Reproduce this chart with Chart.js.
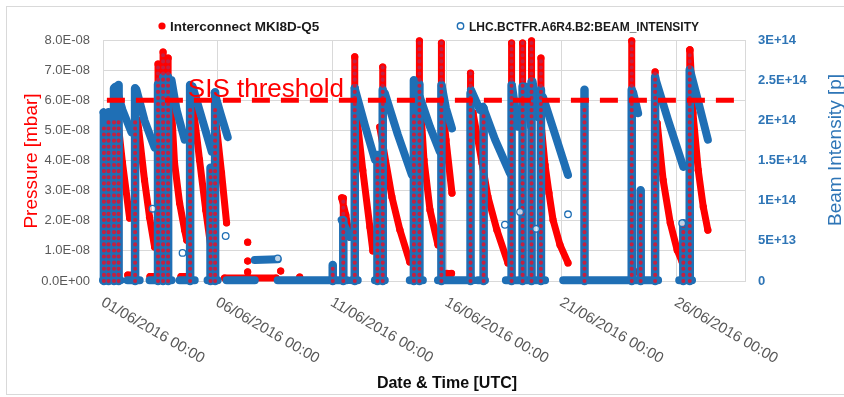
<!DOCTYPE html>
<html><head><meta charset="utf-8">
<script src="https://cdn.jsdelivr.net/npm/chart.js@4.4.1/dist/chart.umd.min.js"></script>
<style>html,body{margin:0;padding:0;background:#fff}#wrap{width:844px;height:397px;position:relative}</style>
</head><body><div id="wrap"><canvas id="c" width="844" height="397"></canvas></div>
<script>
// ---------- DATA (x = days after 01/06/2016 00:00) ----------
const xTickDays = [0, 5, 10, 15, 20, 25];
const xTickLabels = ['01/06/2016 00:00','06/06/2016 00:00','11/06/2016 00:00','16/06/2016 00:00','21/06/2016 00:00','26/06/2016 00:00'];
const leftTickValues = [0,1e-8,2e-8,3e-8,4e-8,5e-8,6e-8,7e-8,8e-8];
const leftTickLabels = ['0.0E+00','1.0E-08','2.0E-08','3.0E-08','4.0E-08','5.0E-08','6.0E-08','7.0E-08','8.0E-08'];
const rightTickValues = [0,5e13,1e14,1.5e14,2e14,2.5e14,3e14];
const rightTickLabels = ['0','5E+13','1E+14','1.5E+14','2E+14','2.5E+14','3E+14'];

const pressureName = 'Interconnect MKI8D-Q5';
const intensityName = 'LHC.BCTFR.A6R4.B2:BEAM_INTENSITY';
const thresholdLabel = 'SIS threshold';
const thresholdPressure = 6e-8;
const thresholdSpan = [0.17, 27.56];

// pressure decays after each fill: [day, mbar]
const pressureDecays = [
  [[0.63,5.44e-8],[0.85,3.92e-8],[1.16,2.09e-8]],
  [[1.51,5.34e-8],[1.81,3.35e-8],[2.03,2.12e-8],[2.25,1.13e-8]],
  [[2.99,5.7e-8],[3.12,3.92e-8],[3.34,2.59e-8],[3.56,1.69e-8],[3.65,1.36e-8]],
  [[3.95,5.68e-8],[4.21,4.02e-8],[4.48,2.36e-8],[4.69,1.2e-8]],
  [[4.87,5.68e-8],[5.17,3.59e-8],[5.39,1.93e-8]],
  [[10.41,2.76e-8],[10.59,2.19e-8],[10.76,1.46e-8]],
  [[11.07,5.44e-8],[11.33,3.68e-8],[11.64,1.79e-8],[11.77,1.0e-8]],
  [[12.07,5.11e-8],[12.6,2.79e-8],[12.95,1.69e-8],[13.38,0.63e-8]],
  [[13.87,5.58e-8],[14.0,4.02e-8],[14.26,2.36e-8],[14.61,1.2e-8]],
  [[14.78,6.11e-8],[14.96,4.68e-8],[15.22,2.92e-8]],
  [[16.14,5.58e-8],[16.53,3.92e-8],[16.79,2.79e-8],[17.18,1.69e-8],[17.66,0.6e-8]],
  [[19.06,5.58e-8],[19.28,3.85e-8],[19.45,2.92e-8],[19.63,2.02e-8],[19.93,1.2e-8],[20.28,0.6e-8]],
  [[24.17,5.24e-8],[24.43,3.35e-8],[24.74,1.93e-8],[25.04,1.03e-8],[25.26,0.63e-8]],
  [[25.6,7.67e-8],[25.73,5.58e-8],[25.96,3.68e-8],[26.18,2.46e-8],[26.38,1.69e-8]]
];
// low pressure plateaus: [from day, to day, mbar]
const pressureBaseline = [
  [0.28,0.45,0.2e-8],[1.08,1.30,0.2e-8],[2.05,2.30,0.15e-8],[3.40,3.62,0.15e-8],
  [5.30,7.55,0.1e-8],[15.0,15.2,0.25e-8],[23.2,23.4,0.3e-8]
];
const pressureDots = [[6.31,1.29e-8],[6.31,0.66e-8],[6.31,0.3e-8],[7.75,0.33e-8],[8.58,0.13e-8],[10.01,0.43e-8]];

// beam intensity decays: [day, protons]
const intensityDecays = [
  [[0.02,2.1e14],[0.28,2.03e14]],
  [[0.55,2.42e14],[0.85,2.13e14],[1.24,1.85e14]],
  [[1.46,2.38e14],[1.81,2.0e14],[2.25,1.66e14]],
  [[2.99,2.5e14],[3.21,2.13e14],[3.56,1.76e14]],
  [[3.91,2.42e14],[4.34,2.0e14],[4.74,1.61e14]],
  [[4.87,2.34e14],[5.13,2.08e14],[5.44,1.79e14]],
  [[6.62,0.26e14],[7.62,0.27e14]],
  [[10.41,0.76e14],[10.76,0.55e14]],
  [[10.98,2.4e14],[11.42,1.94e14],[11.86,1.51e14]],
  [[12.29,2.34e14],[12.86,1.82e14],[13.47,1.32e14]],
  [[13.82,2.29e14],[14.26,1.92e14],[14.69,1.61e14]],
  [[14.78,2.42e14],[14.96,2.15e14],[15.22,1.9e14]],
  [[16.05,2.38e14],[16.44,2.13e14]],
  [[16.57,2.17e14],[17.1,1.76e14],[17.75,1.34e14]],
  [[17.84,2.43e14],[18.1,1.92e14]],
  [[18.41,2.42e14],[18.67,1.92e14]],
  [[18.74,2.48e14],[18.98,2.04e14]],
  [[19.19,2.29e14],[19.72,1.82e14],[20.28,1.32e14]],
  [[23.12,2.35e14],[23.34,2.09e14]],
  [[24.08,2.53e14],[24.65,2.0e14],[25.31,1.42e14]],
  [[25.6,2.63e14],[25.91,2.29e14],[26.38,1.76e14]]
];
// zero-intensity stretches: [from day, to day]
const intensityBaseline = [
  [0.0,0.30],[0.41,0.76],[1.07,1.60],[2.03,2.99],[3.34,4.0],[4.56,5.0],[5.39,6.62],[7.62,10.24],
  [10.33,10.64],[10.85,11.11],[11.86,12.29],[13.38,13.95],[14.61,16.14],[16.35,16.66],
  [17.57,17.97],[18.10,18.49],[18.58,18.89],[19.02,19.28],[20.07,24.21],[25.13,25.69]
];
const intensityOutliers = [[2.16,0.9e14],[3.47,0.35e14],[5.35,0.56e14],[7.62,0.28e14],[17.53,0.7e14],[18.19,0.86e14],[18.89,0.65e14],[20.28,0.83e14],[25.26,0.72e14]];

// injection ramps: [day, pressure top (mbar), intensity top (p)]
const injectionColumns = [
  [0.04,5.2e-8,2.08e14],[0.24,5.41e-8,2.1e14],[0.48,5.3e-8,2.4e14],[0.68,5.44e-8,2.44e14],
  [1.40,5.34e-8,2.4e14],[2.40,7.2e-8,2.45e14],[2.62,7.6e-8,2.54e14],[2.84,7.4e-8,2.54e14],
  [3.80,5.8e-8,2.44e14],[4.69,3.7e-8,1.41e14],[4.89,5.74e-8,2.35e14],
  [10.02,0.45e-8,0.2e14],[10.48,2.75e-8,0.76e14],[10.98,7.44e-8,2.4e14],
  [11.97,4.2e-8,1.57e14],[12.20,7.1e-8,2.38e14],[13.56,5.5e-8,2.5e14],[13.80,7.97e-8,2.45e14],
  [14.76,7.9e-8,2.44e14],[16.03,6.9e-8,2.34e14],[16.60,5.6e-8,2.15e14],
  [17.82,7.9e-8,2.44e14],[18.30,7.9e-8,2.42e14],[18.69,7.97e-8,2.48e14],[19.10,7.4e-8,2.38e14],
  [21.00,5.8e-8,2.38e14],[23.06,7.97e-8,2.38e14],[23.45,3.0e-8,1.13e14],
  [24.08,6.94e-8,2.54e14],[25.31,1.9e-8,0.72e14],[25.59,7.67e-8,2.63e14]
];

// ---------- BUILD ----------
const RED = '#FF0000', BLUE = '#1F6FB5', AXBLUE = '#2E75B6';
const FONT = '"Liberation Sans", Arial, sans-serif';
function joinTraces(traces){
  const out=[];
  traces.forEach(t=>{ t.forEach(([x,y])=>out.push({x,y})); out.push({x:t[t.length-1][0], y:null}); });
  return out;
}
const pressureTraces = []
  .concat(injectionColumns.map(([d,p])=>[[d,0],[d,p]]))
  .concat(pressureDecays)
  .concat(pressureBaseline.map(([a,b,v])=>[[a,v],[b,v]]))
  .concat(pressureDots.map(p=>[p]));
const intensityTraces = intensityDecays.concat(intensityBaseline.map(([a,b])=>[[a,0.01e14],[b,0.01e14]]));
const columnBlue = injectionColumns.map(([d,p,i])=>[[d,0],[d,i]]);
const columnRed = injectionColumns.map(([d,p,i])=>[[d,0],[d,p]]);

const decor = {
  id:'decor',
  beforeDraw(chart){
    const c=chart.ctx; c.save();
    c.fillStyle='#fff'; c.fillRect(0,0,chart.width,chart.height);
    c.strokeStyle='#d9d9d9'; c.lineWidth=1; c.strokeRect(6.5,6.5,860,388);
    c.restore();
  },
  afterDraw(chart){
    const c=chart.ctx, xs=chart.scales.x, ys=chart.scales.y;
    c.save();
    // threshold label
    c.fillStyle=RED; c.font='26px '+FONT; c.textAlign='left'; c.textBaseline='alphabetic';
    c.fillText(thresholdLabel, xs.getPixelForValue(3.7), ys.getPixelForValue(thresholdPressure)-3);
    // x tick labels (rotated)
    c.fillStyle='#595959'; c.font='15px '+FONT; c.textBaseline='top';
    xTickDays.forEach((d,i)=>{
      const px=xs.getPixelForValue(d);
      c.save(); c.translate(px+3,295); c.rotate(Math.PI/6); c.fillText(xTickLabels[i],0,0); c.restore();
    });
    // axis titles
    c.textBaseline='alphabetic'; c.textAlign='center';
    c.fillStyle='#0d0d0d'; c.font='bold 16px '+FONT; c.fillText('Date & Time [UTC]',447,388);
    c.save(); c.translate(37,161); c.rotate(-Math.PI/2); c.fillStyle=RED; c.font='19px '+FONT; c.fillText('Pressure [mbar]',0,0); c.restore();
    c.save(); c.translate(841,150); c.rotate(-Math.PI/2); c.fillStyle=AXBLUE; c.font='19px '+FONT; c.fillText('Beam Intensity [p]',0,0); c.restore();
    // legend
    c.textAlign='left';
    c.fillStyle=RED; c.beginPath(); c.arc(162,26,3.6,0,Math.PI*2); c.fill();
    c.fillStyle='#1a1a1a'; c.font='bold 13.5px '+FONT; c.fillText(pressureName,170,31);
    c.strokeStyle=BLUE; c.lineWidth=1.4; c.beginPath(); c.arc(460.5,26,3.2,0,Math.PI*2); c.stroke();
    c.fillStyle='#1a1a1a'; c.font='bold 12px '+FONT; c.fillText(intensityName,469,31);
    c.restore();
  }
};

const common = {tension:0, spanGaps:false, clip:10, borderJoinStyle:'round', borderCapStyle:'round'};
new Chart(document.getElementById('c'), {
  type:'line',
  data:{ datasets:[
    Object.assign({}, common, {label:'threshold', order:0, yAxisID:'y',
      data:[{x:thresholdSpan[0],y:thresholdPressure},{x:thresholdSpan[1],y:thresholdPressure}],
      borderColor:RED, borderWidth:5, borderDash:[18,11], borderCapStyle:'butt', pointRadius:0}),
    Object.assign({}, common, {label:intensityName+' outliers', order:1, yAxisID:'y2', showLine:false,
      data:intensityOutliers.map(([x,y])=>({x,y})), pointRadius:3.3, pointBorderWidth:1.3,
      pointBorderColor:BLUE, pointBackgroundColor:'rgba(255,255,255,0.7)'}),
    Object.assign({}, common, {label:pressureName+' ramps', order:2, yAxisID:'y',
      data:joinTraces(columnRed), borderColor:'#C42040', borderWidth:4, borderDash:[0.1,6], pointRadius:0}),
    Object.assign({}, common, {label:intensityName+' ramps', order:3, yAxisID:'y2',
      data:joinTraces(columnBlue), borderColor:BLUE, borderWidth:8.5, pointRadius:0}),
    Object.assign({}, common, {label:intensityName, order:4, yAxisID:'y2',
      data:joinTraces(intensityTraces), borderColor:BLUE, borderWidth:8, pointRadius:0}),
    Object.assign({}, common, {label:pressureName, order:5, yAxisID:'y',
      data:joinTraces(pressureTraces), borderColor:RED, borderWidth:7, pointRadius:3.6,
      pointBorderWidth:0, pointBackgroundColor:RED})
  ]},
  options:{
    responsive:false, animation:false, devicePixelRatio:1,
    layout:{padding:{top:40,left:0,right:0,bottom:0}},
    plugins:{legend:{display:false}, tooltip:{enabled:false}},
    scales:{
      x:{type:'linear', min:0, max:28,
        afterBuildTicks:s=>{s.ticks=xTickDays.map(v=>({value:v}));},
        ticks:{display:false}, grid:{color:'#d9d9d9', drawTicks:false}, border:{color:'#d9d9d9'},
        afterFit:s=>{s.height=116;}},
      y:{type:'linear', position:'left', min:0, max:8e-8,
        afterBuildTicks:s=>{s.ticks=leftTickValues.map(v=>({value:v}));},
        ticks:{callback:(v,i)=>leftTickLabels[i], color:'#595959', font:{family:FONT,size:13}, padding:13},
        grid:{color:'#d9d9d9', drawTicks:false}, border:{color:'#d9d9d9'},
        afterFit:s=>{s.width=103;}},
      y2:{type:'linear', position:'right', min:0, max:3e14,
        afterBuildTicks:s=>{s.ticks=rightTickValues.map(v=>({value:v}));},
        ticks:{callback:(v,i)=>rightTickLabels[i], color:AXBLUE, font:{family:FONT,size:13,weight:'bold'}, padding:13},
        grid:{display:false, drawTicks:false}, border:{color:'#d9d9d9'},
        afterFit:s=>{s.width=99;}}
    }
  },
  plugins:[decor]
});
</script></body></html>
